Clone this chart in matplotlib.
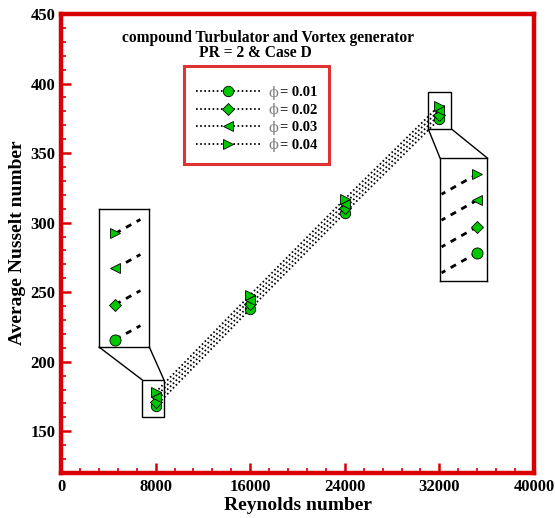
import matplotlib
matplotlib.use("Agg")
import matplotlib.pyplot as plt
from matplotlib.patches import Rectangle, ConnectionPatch
from matplotlib.ticker import MultipleLocator

# ---------------- data ----------------
reynolds = [8000, 16000, 24000, 32000]
nu_001 = [168.0, 238.0, 307.0, 374.5]
nu_002 = [171.3, 241.3, 310.3, 377.7]
nu_003 = [174.7, 244.7, 313.7, 381.0]
nu_004 = [178.0, 248.0, 317.0, 384.2]
series_labels = ["= 0.01", "= 0.02", "= 0.03", "= 0.04"]
series_markers = ["o", "D", "<", ">"]
x_ticks = [0, 8000, 16000, 24000, 32000, 40000]
y_ticks = [150, 200, 250, 300, 350, 400, 450]
title_lines = ["compound Turbulator and Vortex generator", "PR = 2 & Case D"]

RED = "#d80000"
GREEN = "#00c800"
W, H = 555, 518
SERIF = ["Liberation Serif", "DejaVu Serif"]

plt.rcParams["font.family"] = SERIF
plt.rcParams["font.weight"] = "bold"

fig = plt.figure(figsize=(W / 100, H / 100), dpi=100)


def px_rect(x0, y0, x1, y1):
    return [x0 / W, 1 - y1 / H, (x1 - x0) / W, (y1 - y0) / H]


ax = fig.add_axes(px_rect(61, 14, 534, 473))
ax.set_xlim(0, 40000)
ax.set_ylim(120, 450)

all_series = [nu_001, nu_002, nu_003, nu_004]
msizes = [7.5, 6, 6.5, 6.5]
handles = []
for vals, mk, lab, ms in zip(all_series, series_markers, series_labels, msizes):
    (h,) = ax.plot(reynolds, vals, linestyle=(0, (0.9, 1.4)), linewidth=1.3,
                   color="black", marker=mk, markersize=ms,
                   markerfacecolor=GREEN, markeredgecolor="black",
                   markeredgewidth=0.6, label=lab, zorder=3)
    handles.append(h)

# axes styling
for s in ax.spines.values():
    s.set_color(RED)
    s.set_linewidth(3.2)
ax.set_xticks(x_ticks)
ax.set_yticks(y_ticks)
ax.set_xticklabels([str(v) for v in x_ticks])
ax.xaxis.set_minor_locator(MultipleLocator(1600))
ax.yaxis.set_minor_locator(MultipleLocator(10))
ax.tick_params(which="major", direction="in", length=7, width=1.8, color=RED,
               labelsize=12, pad=4)
ax.tick_params(which="minor", direction="in", length=3.5, width=1.2, color=RED)
for t in ax.get_xticklabels() + ax.get_yticklabels():
    t.set_fontweight("bold")

fig.text(297.5 / W, 1 - 505 / H, "Reynolds number", ha="center", va="center",
         fontsize=14, fontweight="bold")
fig.text(18 / W, 1 - 243 / H, "Average Nusselt number", ha="center",
         va="center", rotation=90, fontsize=14, fontweight="bold")

fig.text(268 / W, 1 - 38 / H, title_lines[0], ha="center", va="center",
         fontsize=11.2, fontweight="bold")
fig.text(255 / W, 1 - 53 / H, title_lines[1], ha="center", va="center",
         fontsize=11.2, fontweight="bold")

# legend
leg = ax.legend(handles=handles, loc="upper left",
                bbox_to_anchor=(184 / W, 1 - 66 / H),
                bbox_transform=fig.transFigure, borderaxespad=0,
                frameon=True, fancybox=False, edgecolor=RED,
                handlelength=4.4, handletextpad=1.4, numpoints=1,
                labelspacing=0.3, borderpad=0.8,
                title=" ", title_fontsize=2,
                prop={"family": SERIF, "weight": "bold", "size": 10.5})
leg.get_frame().set_linewidth(2.2)
leg.set_zorder(5)

# small zoom boxes on main axes
box_left = (6875, 160.5, 8710, 186.9)
box_right = (31061, 367.3, 33023, 394.1)
for bx in (box_left, box_right):
    ax.add_patch(Rectangle((bx[0], bx[1]), bx[2] - bx[0], bx[3] - bx[1],
                           fill=False, edgecolor="black", linewidth=1.0,
                           zorder=2))

# inset axes
ins_l = fig.add_axes(px_rect(99, 209, 149.3, 347))
ins_r = fig.add_axes(px_rect(440, 158, 487.3, 281))
ins_l.set_xlim(7903, 8203)
ins_l.set_ylim(167.3, 180.3)
ins_r.set_xlim(31692, 32083)
ins_r.set_ylim(371.0, 386.2)
for ins, xcut in ((ins_l, 8150), (ins_r, 31705)):
    for vals, mk in zip(all_series, series_markers):
        # dashed segment toward the neighbouring point, marker at the data point
        i = 0 if ins is ins_l else len(reynolds) - 1
        j = 1 if ins is ins_l else len(reynolds) - 2
        frac = (xcut - reynolds[i]) / (reynolds[j] - reynolds[i])
        ys = vals[i] + frac * (vals[j] - vals[i])
        ins.plot([reynolds[i], xcut], [vals[i], ys], linestyle=(0, (2.2, 2.2)),
                 linewidth=2.0, color="black")
        ins.plot([reynolds[i]], [vals[i]], linestyle="none", marker=mk,
                 markersize=8 if mk == "o" else 6.5,
                 markerfacecolor=GREEN, markeredgecolor="black",
                 markeredgewidth=0.6)
    ins.set_xticks([])
    ins.set_yticks([])
    for s in ins.spines.values():
        s.set_color("black")
        s.set_linewidth(1.0)

# connectors
for xa, xb in ((0, box_left[0]), (1, box_left[2])):
    cp = ConnectionPatch(xyA=(xa, 0), coordsA=ins_l.transAxes,
                         xyB=(xb, box_left[3]), coordsB=ax.transData,
                         color="black", linewidth=1.0)
    fig.add_artist(cp)
for xa, xb in ((0, box_right[0]), (1, box_right[2])):
    cp = ConnectionPatch(xyA=(xa, 1), coordsA=ins_r.transAxes,
                         xyB=(xb, box_right[1]), coordsB=ax.transData,
                         color="black", linewidth=1.0)
    fig.add_artist(cp)

# grey phi symbols in front of legend labels
fig.canvas.draw()
for t in leg.get_texts():
    bb = t.get_window_extent()
    fig.text((bb.x0 - 7) / W, (bb.y0 + bb.y1) / 2 / H, "\u03d5",
             ha="center", va="center", fontsize=10.5, color="#808080",
             family=["DejaVu Serif"], fontweight="normal", zorder=6)

fig.savefig("out.png", dpi=100)
